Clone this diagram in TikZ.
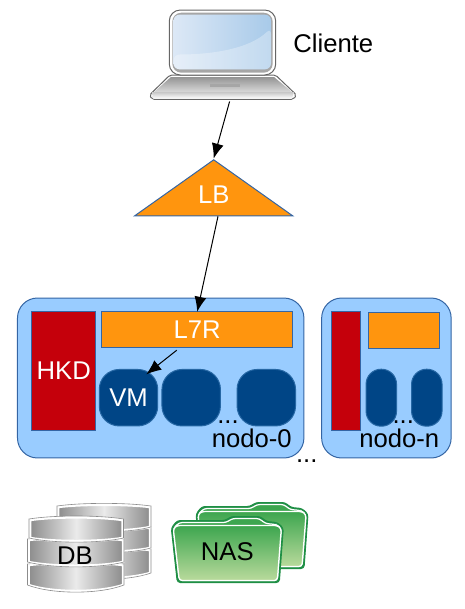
\documentclass[tikz,border=0pt]{standalone}
\usepackage{fontspec}
\setmainfont{Liberation Sans}
\usetikzlibrary{arrows.meta,shapes.geometric}

\definecolor{naranja}{HTML}{FF950E}
\definecolor{celeste}{HTML}{99CCFF}
\definecolor{azul}{HTML}{004586}
\definecolor{rojo}{HTML}{C5000B}
\definecolor{borde}{HTML}{3465A4}
\definecolor{verde}{HTML}{1F8F45}
\definecolor{verdearriba}{HTML}{3DA64F}
\definecolor{verdeabajo}{HTML}{B9DA9C}
\definecolor{pantallaa}{HTML}{DCE8F6}
\definecolor{pantallab}{HTML}{A8CAE9}

\tikzset{
  texto/.style={inner sep=0pt,font=\fontsize{14.6}{16}\selectfont},
  blanco/.style={texto,text=white},
  caja/.style={blanco,draw=borde,line width=0.02cm,outer sep=0pt},
  nodo/.style={caja,fill=celeste,rounded corners=0.4cm},
  vm/.style={blanco,fill=azul,draw=azul!75!celeste,line width=0.02cm,rounded corners=0.4cm},
  flecha/.style={-{Latex[length=0.3cm,width=0.24cm]},line width=0.02cm},
  disco/.style={draw=white,line width=0.05cm,left color=black!45,right color=black!45,middle color=black!8},
  disco borde/.style={draw=black!45,line width=0.012cm},
}

\newcommand{\discodb}[6]{% x, y, curva arriba, curva abajo, ancho, alto
  \path[disco,shading angle=90] (#1,#2)
    .. controls (#1+0.25*#5,#2-#3) and (#1+0.75*#5,#2-#3) .. (#1+#5,#2)
    -- (#1+#5,#2+#6)
    .. controls (#1+0.75*#5,#2+#6+#4) and (#1+0.25*#5,#2+#6+#4) .. (#1,#2+#6) -- cycle;
  \draw[disco borde] (#1-1,#2-1)
    .. controls (#1+0.25*#5,#2-#3-1.5) and (#1+0.75*#5,#2-#3-1.5) .. (#1+#5+1,#2-1)
    -- (#1+#5+1,#2+#6)
    .. controls (#1+0.75*#5,#2+#6+#4+1.5) and (#1+0.25*#5,#2+#6+#4+1.5) .. (#1-1,#2+#6) -- cycle;
}

\newcommand{\carpeta}[2]{% centro x, centro y
  \begin{scope}[shift={(#1,#2)}]
    \path[fill=verde,rounded corners=0.06cm,draw=verde,line width=0.02cm]
      (-56,-21.5) -- (-50,-29) -- (-2,-29) -- (4,-33) -- (33,-33) -- (39,-28)
      -- (50,-27) -- (56,-21.5) -- (52,33) -- (-50,33) -- cycle;
    \path[fill=verdearriba,draw=white,line width=0.025cm,rounded corners=0.06cm]
      (-54,-21) -- (-48,-27) -- (-1,-27) -- (5,-31) -- (32,-31) -- (38,-26)
      -- (49,-25) -- (54,-21) -- (50,31) -- (-48,31) -- cycle;
    \path[top color=verdearriba,bottom color=verdeabajo,draw=white,line width=0.025cm,rounded corners=0.06cm]
      (-54,-21) -- (-50,-24) -- (50,-24) -- (54,-21) -- (50,31) -- (-48,31) -- cycle;
  \end{scope}
}

\begin{document}
\begin{tikzpicture}[x=0.02cm,y=-0.02cm]

\useasboundingbox (0,0) rectangle (465,609);

% cliente
\path[fill=white,draw=black!60,line width=0.02cm,rounded corners=0.04cm] (149.5,95) -- (170,75) -- (275.5,75) -- (296.5,95) -- (293.5,99.3) -- (152,99.3) -- cycle;
\path[top color=black!42,bottom color=black!15] (154,92) -- (171,77) -- (274,77) -- (292,92) -- cycle;
\path[top color=black!22,bottom color=white] (152,92) -- (294,92) -- (292,98.5) -- (153,98.5) -- cycle;
\fill[black!35] (210,84) rectangle (240,87.3);
\path[fill=white,draw=black!60,line width=0.02cm,rounded corners=0.22cm] (169.3,10) rectangle (275.7,75);
\path[fill=black!35,rounded corners=0.18cm] (172.3,12.7) rectangle (272.7,72.7);
\path[left color=pantallaa,right color=pantallab,rounded corners=0.12cm] (173.5,14.7) rectangle (271,69.3);
\path[fill=white,fill opacity=0.3,rounded corners=0.12cm] (173.5,54.5) .. controls (215,54.5) and (250,48) .. (271,28) -- (271,69.3) -- (173.5,69.3) -- cycle;

\node[minimum width=2.96cm,minimum height=1.78cm,inner sep=0pt,outer sep=0.05cm] (cliente) at (223,54.5) {};
\node[texto,anchor=base] (nombre) at (333.3,52.7) {Cliente};

\node[blanco,draw=borde,fill=naranja,line width=0.02cm,isosceles triangle,isosceles triangle stretches,shape border rotate=90,minimum width=3.16cm,minimum height=1.12cm,anchor=apex] (lb) at (213.7,158.5) {LB};

\node[nodo,minimum width=5.73cm,minimum height=3.2cm] (nodo0) at (160.7,378) {};
\node[nodo,minimum width=2.59cm,minimum height=3.2cm] (nodon) at (386.4,378) {};

\node[caja,fill=rojo,minimum width=1.28cm,minimum height=2.37cm] (hkd) at (63.7,371) {HKD};
\node[caja,fill=naranja,minimum width=3.82cm,minimum height=0.71cm] (l7r) at (197.2,329.5) {L7R};
\node[vm,minimum width=1.17cm,minimum height=1.13cm] (vm0) at (128.5,397.7) {VM};
\node[vm,minimum width=1.17cm,minimum height=1.13cm] (vm1) at (191.2,397.7) {};
\node[vm,minimum width=1.17cm,minimum height=1.13cm] (vm2) at (266.3,397.7) {};
\node[texto,anchor=base] (puntos0) at (228,423) {...};
\node[texto,anchor=base] (nombre0) at (251.7,447.3) {nodo-0};

\node[caja,fill=rojo,minimum width=0.57cm,minimum height=2.37cm] (hkdn) at (346,371) {};
\node[caja,fill=naranja,minimum width=1.41cm,minimum height=0.72cm] (l7rn) at (404,330.3) {};
\node[vm,minimum width=0.61cm,minimum height=1.14cm,rounded corners=0.3cm] (vmn0) at (381.3,397.7) {};
\node[vm,minimum width=0.61cm,minimum height=1.14cm,rounded corners=0.3cm] (vmn1) at (426.8,397.7) {};
\node[texto,anchor=base] (puntosn) at (403.3,423) {...};
\node[texto,anchor=base] (nombren) at (399.3,447.3) {nodo-n};

\node[texto,anchor=base] (puntos) at (306.7,462) {...};

\draw[flecha] (cliente.-82) -- (lb.apex);
\draw[flecha] ([xshift=0.086cm]lb.lower side) -- (l7r.north);
\draw[flecha] ([xshift=-0.41cm,yshift=-0.06cm]l7r.south) -- ([xshift=-0.24cm,yshift=-0.108cm]vm0.north east);

% almacenamiento
\discodb{58}{550}{3}{7}{92}{23}
\discodb{58}{528}{3}{5}{92}{20}
\discodb{58}{507}{3}{5}{92}{20}
\discodb{28.5}{565}{3}{8}{94.5}{20}
\discodb{28.5}{540}{3}{5}{94.5}{22}
\discodb{30}{520}{3.5}{4}{92.5}{18}
\node[texto,anchor=base] (db) at (75,564) {DB};

\carpeta{252}{535.5}
\carpeta{227.3}{549.5}
\node[texto,anchor=base] (nas) at (227.3,560.7) {NAS};

\end{tikzpicture}
\end{document}
